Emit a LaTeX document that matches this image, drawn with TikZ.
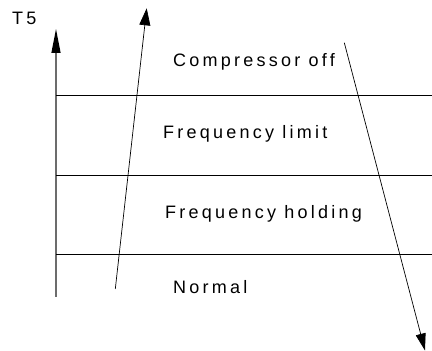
\documentclass[tikz,border=0pt]{standalone}
\usepackage{fontspec}
\setmainfont[LetterSpace=18]{Liberation Sans}
\usetikzlibrary{arrows.meta}

\begin{document}
\begin{tikzpicture}[line cap=butt,line join=round,x=1pt,y=1pt,
		zonetext/.style={anchor=base west,inner sep=0pt,font=\fontsize{18}{21}\selectfont},
		longtip/.style={-{Triangle[length=17pt,width=10pt]}}]
	\useasboundingbox (0,0) rectangle (432,351);
	% axe T5
	\coordinate (ax0) at (56,54);
	\coordinate (ax1) at (56,322);
	\draw[gray!85!black,line width=1.3pt,-{Triangle[length=24pt,width=9pt,color=black]}] (ax0)--(ax1);
	\node[zonetext] (T5) at (12,326) {T5};
	% seuils
	\coordinate (s1a) at (56,255.5); \coordinate (s1b) at (432,255.5);
	\coordinate (s2a) at (56,176);   \coordinate (s2b) at (432,176);
	\coordinate (s3a) at (56,97);    \coordinate (s3b) at (432,97);
	\draw[line width=0.8pt] (s1a)--(s1b);
	\draw[line width=0.8pt] (s2a)--(s2b);
	\draw[line width=0.8pt] (s3a)--(s3b);
	% zones
	\node[zonetext] (off) at (173,284) {Compressor off};
	\node[zonetext] (limit) at (163,212) {Frequency limit};
	\node[zonetext] (hold) at (165,132) {Frequency holding};
	\node[zonetext] (normal) at (173,57) {Normal};
	% montee / descente
	\coordinate (up0) at (115.3,62);
	\coordinate (up1) at (146.7,342.7);
	\draw[line width=0.7pt,-{Triangle[length=17pt,width=11pt]}] (up0)--(up1);
	\coordinate (dn0) at (344.3,308.3);
	\coordinate (dn1) at (425,0.5);
	\draw[line width=0.7pt,longtip] (dn0)--(dn1);
\end{tikzpicture}
\end{document}
